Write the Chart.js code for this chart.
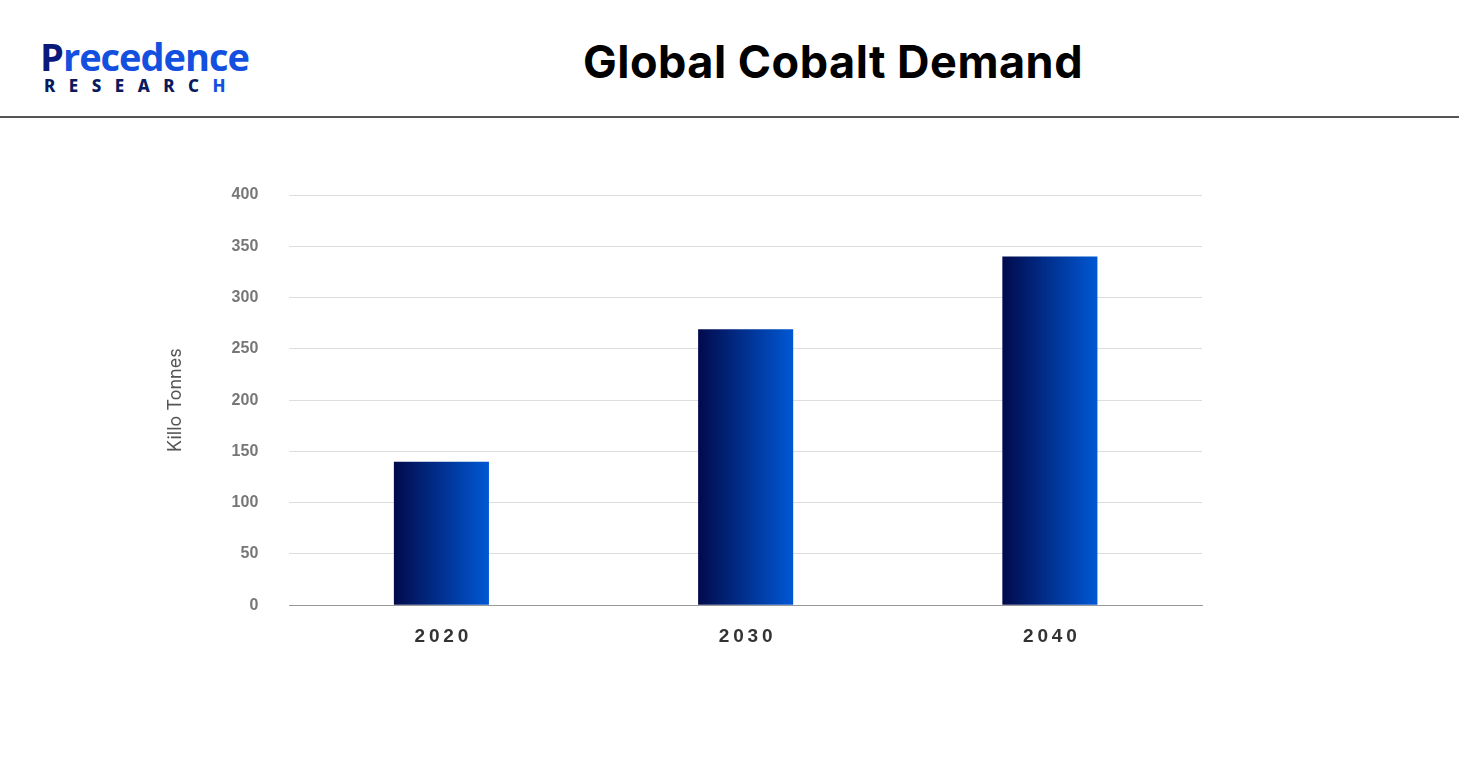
<!DOCTYPE html>
<html><head><meta charset="utf-8">
<script src="https://cdn.jsdelivr.net/npm/chart.js@4"></script>
<style>
body{margin:0;width:1459px;height:783px;background:#fff;position:relative;overflow:hidden;font-family:Inter,"Noto Sans",sans-serif}
#title{position:absolute;left:0;width:1666px;top:34px;text-align:center;font-size:45px;font-weight:700;color:#000;letter-spacing:0.5px}
#rule{position:absolute;left:0;right:0;top:116px;height:2px;background:#555}
#logo1{position:absolute;left:40px;top:30px;font-family:"Open Sans",sans-serif;font-size:38px;font-weight:700;color:#0a1a7a;letter-spacing:-1px}
#logo1 span{color:#1450e0}
#logo2{position:absolute;left:44px;top:74px;font-size:17px;font-weight:800;color:#0a1a5e;letter-spacing:13.5px;font-family:"Noto Sans",sans-serif}
#c{position:absolute;left:0;top:0}
</style></head><body>
<div id="logo1">P<span>recedence</span></div>
<div id="logo2">RESEARC<span style="color:#1450e0">H</span></div>
<div id="title">Global Cobalt Demand</div>
<div id="rule"></div>
<canvas id="c" width="1459" height="783"></canvas>
<script>
const categories=["2020","2030","2040"];
const demand=[140,269,340];
const yTicks=[0,50,100,150,200,250,300,350,400];
const BAR_PCT=0.3125;
function grad(ctx){
  const xs=ctx.chart.scales&&ctx.chart.scales.x;
  if(!xs||!xs.width) return "#0a2a9a";
  const cx=xs.getPixelForValue(ctx.dataIndex);
  const w=xs.width/categories.length*BAR_PCT;
  const g=ctx.chart.ctx.createLinearGradient(cx-w/2,0,cx+w/2,0);
  g.addColorStop(0,"#020a4c");g.addColorStop(1,"#0058d4");return g;
}
new Chart(document.getElementById("c"),{
 type:"bar",
 data:{labels:categories,datasets:[{data:demand,backgroundColor:grad,barPercentage:BAR_PCT,categoryPercentage:1}]},
 options:{responsive:false,animation:false,
  layout:{padding:{left:161,right:257,top:195,bottom:123}},
  plugins:{legend:{display:false},tooltip:{enabled:false}},
  scales:{
   x:{grid:{display:false},border:{color:"#999"},ticks:{color:"#333",font:{size:19,weight:"bold",family:"Liberation Sans"},padding:12,
      callback:(v,i)=>categories[i].split("").join(String.fromCharCode(8201))}},
   y:{min:0,max:400,afterBuildTicks:a=>{a.ticks=yTicks.map(v=>({value:v}))},
      grid:{color:"#ddd",tickLength:0},border:{display:false},
      ticks:{color:"#777",font:{size:16,weight:"bold",family:"Liberation Sans"},padding:31},
      title:{display:true,text:"Killo Tonnes",color:"#555",font:{size:18,family:"Inter"},padding:{bottom:14}}}
  }}
});
</script></body></html>
